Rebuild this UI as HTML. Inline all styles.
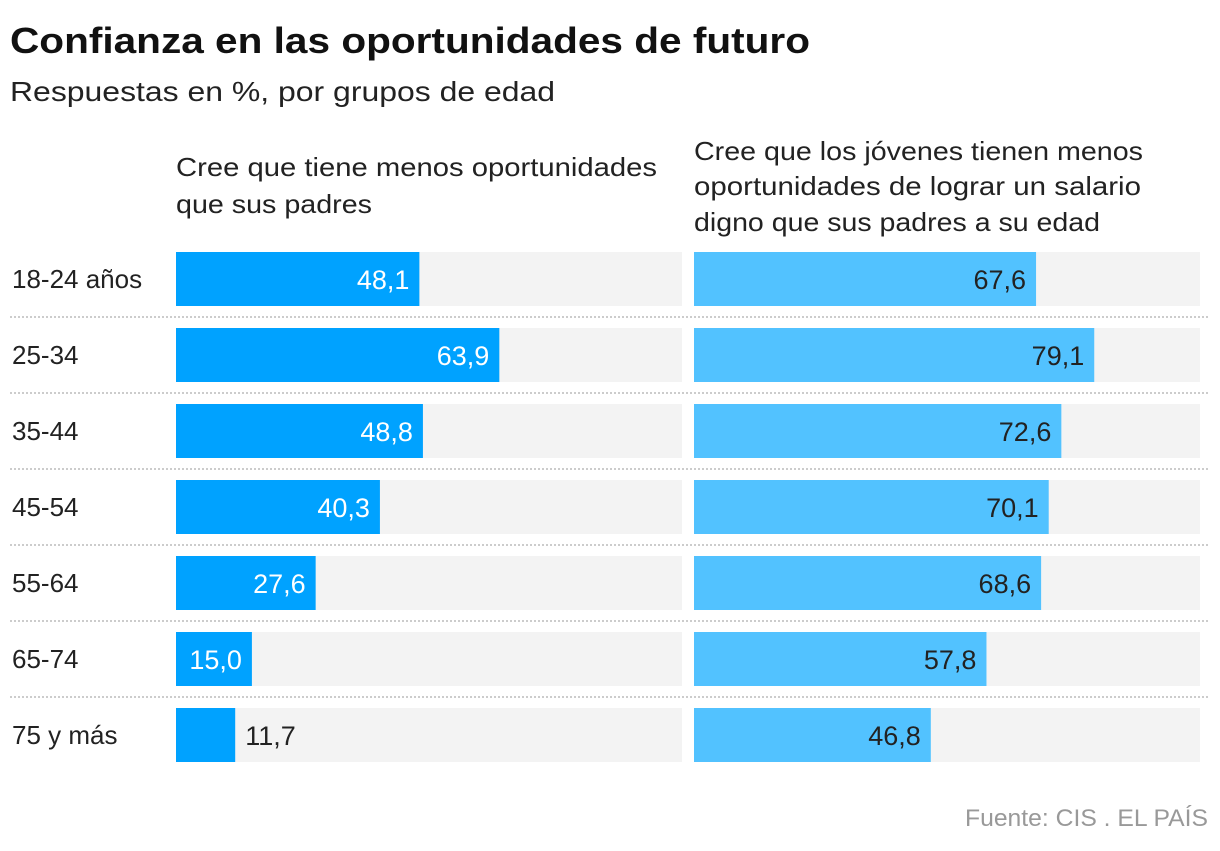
<!DOCTYPE html>
<html><head><meta charset="utf-8">
<style>
body{margin:0;background:#fff;width:1220px;height:846px;overflow:hidden;font-family:"Liberation Sans",sans-serif;}
svg text{font-family:"Liberation Sans",sans-serif;}
</style></head>
<body>
<svg id="chart" width="1220" height="846">
<text x="10" y="53" font-size="36" font-weight="bold" fill="#111" textLength="800" lengthAdjust="spacingAndGlyphs">Confianza en las oportunidades de futuro</text>
<text x="10" y="101" font-size="28" fill="#222" textLength="545" lengthAdjust="spacingAndGlyphs">Respuestas en %, por grupos de edad</text>
<g font-size="26" fill="#222">
<text x="176" y="176" textLength="481" lengthAdjust="spacingAndGlyphs">Cree que tiene menos oportunidades</text>
<text x="176" y="213" textLength="196" lengthAdjust="spacingAndGlyphs">que sus padres</text></g>
<g font-size="26" fill="#222">
<text x="694" y="160" textLength="449" lengthAdjust="spacingAndGlyphs">Cree que los jóvenes tienen menos</text>
<text x="694" y="195" textLength="447" lengthAdjust="spacingAndGlyphs">oportunidades de lograr un salario</text>
<text x="694" y="231" textLength="406" lengthAdjust="spacingAndGlyphs">digno que sus padres a su edad</text></g>
<text x="965" y="826" font-size="24" fill="#999" textLength="243" lengthAdjust="spacingAndGlyphs">Fuente: CIS . EL PAÍS</text>
<g id="rows"></g>
</svg>
<script>
const categories=["18-24 años","25-34","35-44","45-54","55-64","65-74","75 y más"];
const leftValues=[48.1,63.9,48.8,40.3,27.6,15.0,11.7];
const rightValues=[67.6,79.1,72.6,70.1,68.6,57.8,46.8];
const NS="http://www.w3.org/2000/svg";
const g=document.getElementById('rows');
const rowTop=i=>252+i*76, BH=54, SC=5.06;
const xL=v=>v*SC, L0=176, R0=694, W=506;
function mk(t,a){const e=document.createElementNS(NS,t);for(const k in a)e.setAttribute(k,a[k]);g.appendChild(e);return e;}
const fmt=v=>v.toFixed(1).replace('.',',');
categories.forEach((c,i)=>{
  const y=rowTop(i);
  if(i>0){const s=mk('line',{x1:10,x2:1210,y1:y-11,y2:y-11,stroke:'#ccc','stroke-width':2,'stroke-dasharray':'2,2'});
  
  }
  const lb=mk('text',{x:12,y:y+36,'font-size':26,fill:'#222'});lb.textContent=c;
  
  
  [[L0,leftValues[i],'#00a2ff','left'],[R0,rightValues[i],'#52c2ff','right']].forEach(([x0,v,col,side])=>{
    const bg=mk('rect',{x:x0,y:y,width:W,height:BH,fill:'#f3f3f3'});
    
    
    const w=xL(v);
    const b=mk('rect',{x:x0,y:y,width:w,height:BH,fill:col});
    
    
    const inside=w>70;
    const t=mk('text',{x:inside?x0+w-10:x0+w+10,y:y+37,'font-size':27,'text-anchor':inside?'end':'start',fill:(side==='left'&&inside)?'#fff':'#222'});
    t.textContent=fmt(v);
    
    
  });
});
</script>
</body></html>
